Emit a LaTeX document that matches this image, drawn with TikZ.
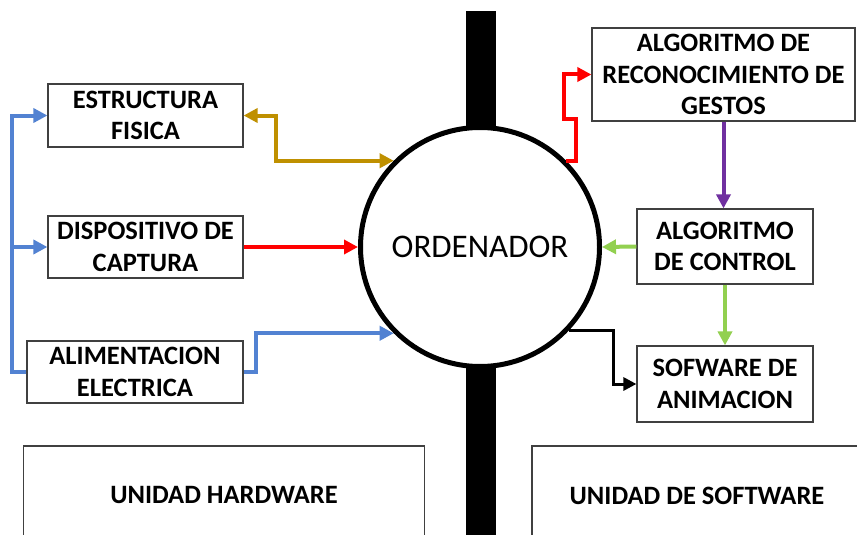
\documentclass[tikz,border=0pt]{standalone}
\usepackage{fontspec}
\setmainfont{Carlito}
\usetikzlibrary{arrows.meta}
\definecolor{boxgray}{RGB}{64,64,64}
\definecolor{cblue}{RGB}{82,130,210}
\definecolor{cgold}{RGB}{191,144,0}
\definecolor{cred}{RGB}{255,0,0}
\definecolor{cgreen}{RGB}{146,208,80}
\definecolor{cpurple}{RGB}{112,48,160}
\begin{document}
\begin{tikzpicture}[x=1pt,y=-1pt,
  box/.style={draw=boxgray, line width=1.2pt, fill=white, align=center, inner sep=0pt,
    font=\fontsize{26.5}{31.5}\selectfont\bfseries, text=black},
  conn/.style={line width=4pt, -{Triangle[length=14pt,width=14pt]}},
  conn2/.style={line width=4pt, {Triangle[length=14pt,width=14pt]}-{Triangle[length=14pt,width=14pt]}},
  bconn/.style={line width=3pt, -{Triangle[length=13pt,width=13pt]}}]
\clip (0,0) rectangle (857,535);
\fill[white] (0,0) rectangle (857,535);
% central bar
\fill[black] (466,11) rectangle (496,545);
% computer
\node[circle, draw=black, line width=5pt, fill=white, minimum size=239pt, inner sep=0pt,
  font=\fontsize{33}{33}\selectfont] (ord) at (480,247) {ORDENADOR};
% hardware boxes
\node[box, minimum width=195pt, minimum height=63pt] (est) at (145.5,115.5) {ESTRUCTURA\\FISICA};
\node[box, minimum width=195pt, minimum height=62pt] (disp) at (145.5,247) {DISPOSITIVO DE\\CAPTURA};
\node[box, minimum width=216pt, minimum height=62pt] (alim) at (135,372) {ALIMENTACION\\ELECTRICA};
% software boxes
\node[box, minimum width=263pt, minimum height=93pt] (recon) at (723.5,74.5) {ALGORITMO DE\\RECONOCIMIENTO DE\\GESTOS};
\node[box, minimum width=176pt, minimum height=75pt] (ctrl) at (725,246.5) {ALGORITMO\\DE CONTROL};
\node[box, minimum width=176pt, minimum height=76pt] (sof) at (725,384) {SOFWARE DE\\ANIMACION};
% unit boxes
\node[box, minimum width=401pt, minimum height=99pt] (hw) at (224,495.5) {UNIDAD HARDWARE};
\node[box, minimum width=330pt, minimum height=99pt] (sw) at (697,495.5) {UNIDAD DE SOFTWARE};
% connectors
\draw[conn, cblue] (alim.west) -- ++(-14,0) |- (est.west);
\draw[conn, cblue] (alim.west) -- ++(-14,0) |- (disp.west);
\draw[conn, cblue] (alim.east) -- ++(12,0) |- (ord.225);
\draw[conn2, cgold] (est.east) -- ++(32,0) |- (ord.135);
\draw[conn, cred] (disp.east) -- (ord.west);
\draw[conn, cred] (ord.45) -- ++(10,0) -- ++(0,-42) -- ++(-12,0) |- (recon.west);
\draw[conn, cpurple] (recon.south) -- (recon.south |- ctrl.north);
\draw[conn, cgreen] (ctrl.west) -- (ord.east);
\draw[conn, cgreen] (ctrl.south) -- (sof.north);
\draw[bconn, black] (ord.-43) -- ++(44,0) |- (sof.west);
\end{tikzpicture}
\end{document}
